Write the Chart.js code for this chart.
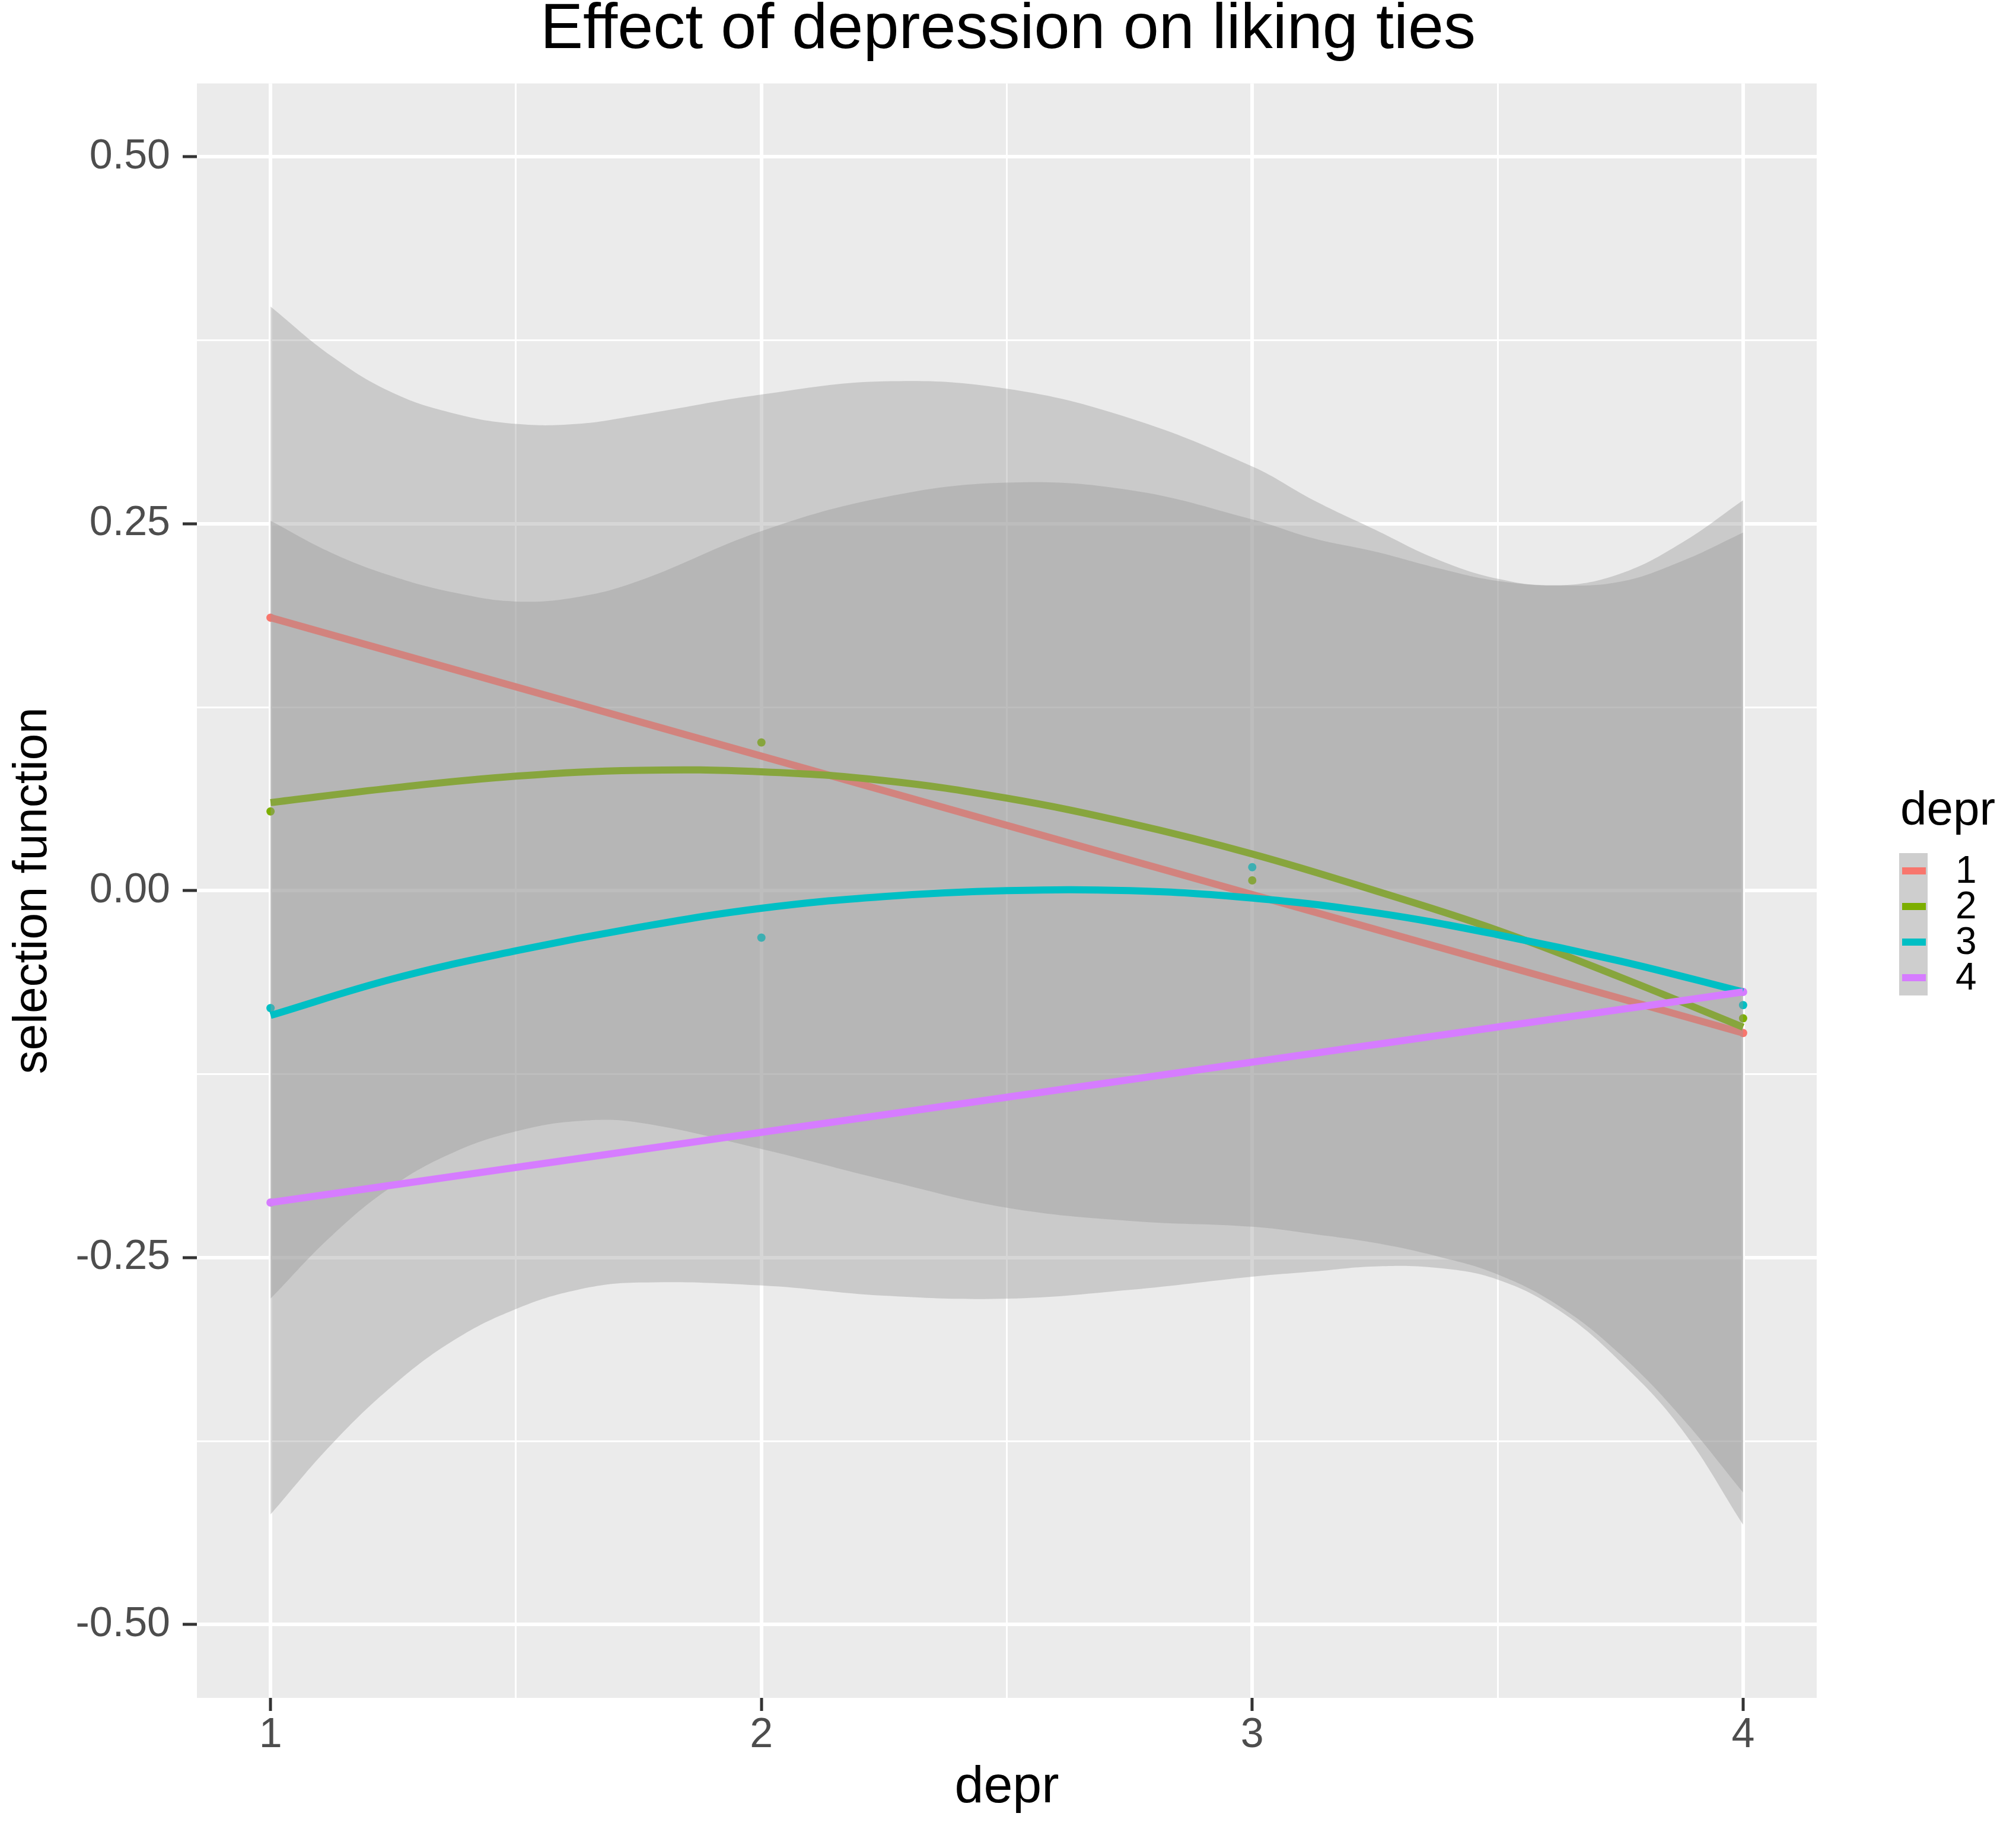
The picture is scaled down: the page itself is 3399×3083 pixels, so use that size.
<!DOCTYPE html>
<html>
<head>
<meta charset="utf-8">
<title>Effect of depression on liking ties</title>
<script src="https://cdn.jsdelivr.net/npm/chart.js@4.4.1/dist/chart.umd.min.js"></script>
<style>
  html, body { margin: 0; padding: 0; background: #ffffff; }
</style>
</head>
<body>
<canvas id="chart" width="3399" height="3083"></canvas>
<script>
// legend groups (depr) and their colours
var groups = ['1', '2', '3', '4'];
var groupColors = ['#F8766D', '#7CAE00', '#00BFC4', '#D67CFF'];

// observed points per group
var deprLevels = [1, 2, 3, 4];
var endsX = [1, 4];
var pts1 = [0.186, -0.097];
var pts2 = [0.054, 0.101, 0.007, -0.087];
var pts3 = [-0.080, -0.032, 0.016, -0.078];
var pts4 = [-0.2125, -0.069];

// straight fits (groups 1 and 4)
var line1 = [0.186, -0.097];
var line4 = [-0.2125, -0.069];

// smooth fits (groups 2 and 3)
var smoothX = [1, 1.25, 1.5, 1.75, 2, 2.25, 2.5, 2.75, 3, 3.25, 3.5, 3.75, 4];
var smooth2 = [0.060, 0.070, 0.078, 0.082, 0.081, 0.075, 0.063, 0.046, 0.025, 0.000, -0.027, -0.059, -0.093];
var smooth3 = [-0.085, -0.060, -0.041, -0.025, -0.012, -0.004, 0.000, 0.000, -0.005, -0.015, -0.030, -0.048, -0.069];

// confidence ribbons
var bandX = [1, 1.125, 1.25, 1.375, 1.5, 1.625, 1.75, 2, 2.25, 2.5, 2.75, 3, 3.125, 3.25, 3.375, 3.5, 3.625, 3.75, 3.875, 4];
var bandAHi = [0.398, 0.364, 0.339, 0.325, 0.318, 0.318, 0.324, 0.338, 0.347, 0.342, 0.322, 0.289, 0.266, 0.246, 0.226, 0.2125, 0.208, 0.216, 0.237, 0.266];
var bandALo = [-0.425, -0.377, -0.337, -0.306, -0.285, -0.272, -0.267, -0.269, -0.276, -0.278, -0.272, -0.263, -0.2595, -0.256, -0.257, -0.265, -0.286, -0.321, -0.367, -0.432];
var bandBHi = [0.252, 0.230, 0.214, 0.203, 0.197, 0.200, 0.211, 0.245, 0.268, 0.278, 0.273, 0.253, 0.240, 0.231, 0.220, 0.211, 0.208, 0.2105, 0.2245, 0.244];
var bandBLo = [-0.278, -0.235, -0.201, -0.178, -0.164, -0.157, -0.158, -0.176, -0.197, -0.216, -0.225, -0.229, -0.234, -0.240, -0.249, -0.2615, -0.283, -0.316, -0.359, -0.410];

// axis breaks
var xMajor = [1, 2, 3, 4];
var xBreaks = [1, 1.5, 2, 2.5, 3, 3.5, 4];
var yMajor = [-0.5, -0.25, 0, 0.25, 0.5];
var yBreaks = [-0.5, -0.375, -0.25, -0.125, 0, 0.125, 0.25, 0.375, 0.5];

var FONT = '"Liberation Sans", Arial, Helvetica, sans-serif';
var RIBBON = 'rgba(153,153,153,0.4)';
var NONE = 'rgba(0,0,0,0)';

function xy(xs, ys) {
  return xs.map(function (x, i) { return { x: x, y: ys[i] }; });
}
function isMajor(list, v) {
  return list.some(function (m) { return Math.abs(m - v) < 1e-9; });
}

Chart.defaults.font.family = FONT;

var panelBg = {
  id: 'panelBg',
  beforeDraw: function (chart) {
    var c = chart.ctx, a = chart.chartArea;
    c.save();
    c.fillStyle = '#FFFFFF';
    c.fillRect(0, 0, chart.width, chart.height);
    c.fillStyle = '#EBEBEB';
    c.fillRect(a.left, a.top, a.right - a.left, a.bottom - a.top);
    c.restore();
  }
};

// ggplot style legend on the right
var sideLegend = {
  id: 'sideLegend',
  afterDraw: function (chart) {
    var c = chart.ctx;
    var left = 3202, top = 1438, keyW = 48, keyH = 60;
    c.save();
    c.fillStyle = '#000000';
    c.font = '80px ' + FONT;
    c.textBaseline = 'alphabetic';
    c.textAlign = 'left';
    c.fillText('depr', 3204, 1390);
    c.fillStyle = '#CECECE';
    c.fillRect(left, top, keyW, keyH * groups.length);
    c.font = '64px ' + FONT;
    c.textBaseline = 'middle';
    groups.forEach(function (g, i) {
      var cy = top + keyH * i + keyH / 2;
      c.strokeStyle = groupColors[i];
      c.lineWidth = 12;
      c.lineCap = 'butt';
      c.beginPath();
      c.moveTo(left + 5, cy);
      c.lineTo(left + keyW - 3, cy);
      c.stroke();
      c.fillStyle = '#000000';
      c.fillText(g, 3297, cy + 2);
    });
    c.restore();
  }
};

function ribbon(data, fill, order) {
  return {
    data: data, fill: fill, backgroundColor: RIBBON, borderColor: NONE,
    borderWidth: 0, pointRadius: 0, tension: 0.4, order: order
  };
}
function fitLine(data, color, order, smooth) {
  return {
    data: data, borderColor: color, borderWidth: 12, borderCapStyle: 'butt',
    pointRadius: 0, fill: false, order: order, tension: smooth ? 0.4 : 0
  };
}
function points(data, color, order) {
  return {
    data: data, showLine: false, pointRadius: 7, pointBorderWidth: 0,
    pointBackgroundColor: color, borderColor: color, order: order
  };
}

new Chart(document.getElementById('chart'), {
  type: 'line',
  data: {
    datasets: [
      ribbon(xy(bandX, bandAHi), '+1', 10),
      ribbon(xy(bandX, bandALo), false, 10),
      points(xy(endsX, pts1), groupColors[0], 9),
      points(xy(deprLevels, pts2), groupColors[1], 9),
      points(xy(deprLevels, pts3), groupColors[2], 9),
      points(xy(endsX, pts4), groupColors[3], 9),
      fitLine(xy(endsX, line1), groupColors[0], 8, false),
      fitLine(xy(smoothX, smooth2), groupColors[1], 7, true),
      ribbon(xy(bandX, bandBHi), '+1', 6),
      ribbon(xy(bandX, bandBLo), false, 6),
      fitLine(xy(smoothX, smooth3), groupColors[2], 5, true),
      fitLine(xy(endsX, line4), groupColors[3], 4, false)
    ]
  },
  options: {
    responsive: false,
    devicePixelRatio: 1,
    animation: false,
    events: [],
    layout: { padding: 0 },
    plugins: {
      legend: { display: false },
      tooltip: { enabled: false },
      title: {
        display: true,
        text: 'Effect of depression on liking ties',
        color: '#000000',
        font: { size: 108, weight: 'normal', lineHeight: 0.95 },
        padding: { top: 0, bottom: 38 }
      }
    },
    scales: {
      x: {
        type: 'linear', min: 0.85, max: 4.15,
        afterBuildTicks: function (axis) { axis.ticks = xBreaks.map(function (v) { return { value: v }; }); },
        afterFit: function (axis) { axis.height = 221; },
        border: { display: false },
        grid: {
          color: '#FFFFFF',
          lineWidth: function (ctx) { return isMajor(xMajor, ctx.tick.value) ? 6 : 3; },
          drawTicks: true,
          tickLength: 22,
          tickWidth: 5,
          tickColor: function (ctx) { return isMajor(xMajor, ctx.tick.value) ? '#333333' : NONE; }
        },
        ticks: {
          autoSkip: false, maxRotation: 0, padding: 0, color: '#4D4D4D',
          font: { size: 70 },
          callback: function (v) { return isMajor(xMajor, v) ? String(v) : ''; }
        },
        title: {
          display: true, text: 'depr', color: '#000000',
          font: { size: 88 }, padding: { top: 0, bottom: 16 }
        }
      },
      y: {
        type: 'linear', min: -0.55, max: 0.55,
        afterBuildTicks: function (axis) { axis.ticks = yBreaks.map(function (v) { return { value: v }; }); },
        afterFit: function (axis) { axis.width = 332; },
        border: { display: false },
        grid: {
          color: '#FFFFFF',
          lineWidth: function (ctx) { return isMajor(yMajor, ctx.tick.value) ? 6 : 3; },
          drawTicks: true,
          tickLength: 24,
          tickWidth: 5,
          tickColor: function (ctx) { return isMajor(yMajor, ctx.tick.value) ? '#333333' : NONE; }
        },
        ticks: {
          autoSkip: false, padding: 21, color: '#4D4D4D',
          font: { size: 70 },
          callback: function (v) { return isMajor(yMajor, v) ? v.toFixed(2) : ''; }
        },
        title: {
          display: true, text: 'selection function', color: '#000000',
          font: { size: 80 }, padding: { top: 8, bottom: 0 }
        }
      },
      // empty strip on the right that leaves room for the legend
      legendSpace: {
        type: 'linear', position: 'right', min: 0, max: 1,
        afterFit: function (axis) { axis.width = 336; },
        border: { display: false },
        grid: { display: false },
        ticks: { display: false }
      }
    }
  },
  plugins: [panelBg, sideLegend]
});
</script>
</body>
</html>
